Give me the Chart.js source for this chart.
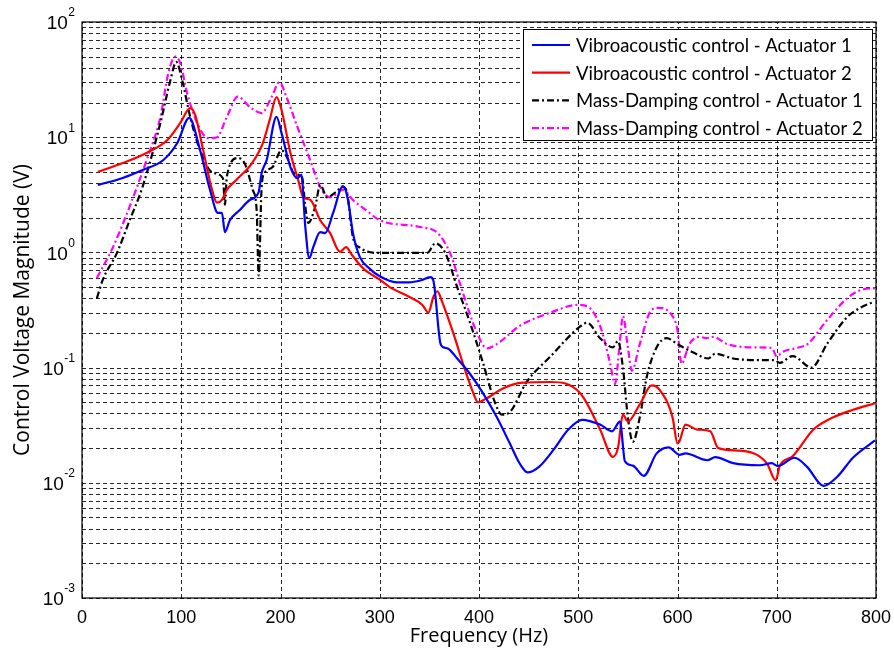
<!DOCTYPE html>
<html>
<head>
<meta charset="utf-8">
<script src="https://cdn.jsdelivr.net/npm/chart.js@4.4.1/dist/chart.umd.min.js"></script>
<style>
  html, body { margin: 0; padding: 0; background: #fff; }
  #wrap { width: 894px; height: 655px; }
</style>
</head>
<body>
<div id="wrap"><canvas id="chart" width="894" height="655"></canvas></div>
<script>
// values (frequency in Hz, voltage in V)
const seriesLabels = [
    'Vibroacoustic control - Actuator 1',
    'Vibroacoustic control - Actuator 2',
    'Mass-Damping control - Actuator 1',
    'Mass-Damping control - Actuator 2'
];

const freqVA1 = [16, 41, 61, 82, 96, 108, 119, 129, 137, 141, 144, 149, 159, 169, 178, 181, 186, 196, 201, 210, 217, 221, 225, 229, 233, 240, 245, 253, 263, 268, 273, 280, 290, 300, 317, 330, 341, 351, 354, 361, 364, 369, 378, 391, 404, 418, 431, 441, 449, 461, 475, 490, 504, 522, 534, 542, 547, 555, 566, 579, 591, 602, 608, 630, 638, 656, 683, 695, 701, 718, 731, 747, 761, 777, 799];
const voltVA1 = [3.85, 4.43, 5.19, 6.34, 8.9, 14.7, 7.7, 3.48, 2.2, 2.2, 1.5, 1.9, 2.33, 2.85, 3.34, 4.9, 6.3, 15, 10.9, 5.5, 4.4, 4.7, 1.66, 0.89, 1.11, 1.5, 1.47, 2.2, 3.77, 2.85, 1.47, 0.91, 0.72, 0.62, 0.55, 0.55, 0.57, 0.61, 0.57, 0.164, 0.15, 0.146, 0.12, 0.088, 0.06, 0.037, 0.022, 0.0147, 0.0123, 0.0139, 0.0193, 0.029, 0.0352, 0.032, 0.028, 0.034, 0.0154, 0.0141, 0.0115, 0.018, 0.0203, 0.0175, 0.018, 0.0157, 0.0167, 0.0148, 0.0142, 0.0148, 0.014, 0.0165, 0.0136, 0.0094, 0.0113, 0.0166, 0.0233];

const freqVA2 = [16, 41, 65, 86, 99, 109, 114, 122, 131, 136, 141, 146, 156, 171, 182, 189, 196, 201, 210, 218, 223, 230, 240, 250, 260, 266, 272, 283, 300, 310, 330, 343, 349, 354, 358, 363, 374, 386, 394, 399, 406, 424, 444, 472, 502, 522, 535, 540, 545, 550, 562, 574, 582, 595, 600, 602, 608, 620, 633, 641, 663, 690, 699, 703, 716, 737, 757, 777, 799];
const voltVA2 = [5.0, 5.97, 7.3, 9.46, 13.3, 17.9, 15.6, 7.8, 3.5, 2.7, 2.86, 3.5, 4.3, 5.9, 8.8, 14, 22.3, 17.3, 7.3, 4.2, 3.0, 2.86, 1.9, 1.47, 1.01, 1.11, 0.95, 0.73, 0.58, 0.5, 0.41, 0.35, 0.30, 0.41, 0.46, 0.37, 0.2, 0.095, 0.061, 0.05, 0.053, 0.066, 0.074, 0.075, 0.06, 0.029, 0.0168, 0.02, 0.039, 0.034, 0.048, 0.07, 0.064, 0.037, 0.022, 0.023, 0.032, 0.029, 0.028, 0.02, 0.019, 0.0148, 0.0105, 0.014, 0.017, 0.029, 0.037, 0.043, 0.049];

const freqMD1 = [15, 21, 35, 48, 61, 79, 89, 95, 101, 109, 119, 132, 142, 144, 146, 157, 164, 172, 176, 178, 181, 184, 192, 201, 208, 213, 219, 222, 225, 228, 235, 240, 247, 255, 263, 267, 273, 280, 300, 330, 348, 356, 366, 378, 391, 404, 416, 423, 431, 448, 472, 502, 509, 522, 535, 540, 545, 550, 555, 562, 569, 579, 589, 601, 616, 631, 638, 656, 683, 698, 703, 716, 735, 751, 771, 784, 797];
const voltMD1 = [0.40, 0.58, 0.98, 1.9, 3.7, 13.3, 31, 45, 31, 15, 7.7, 4.9, 4.4, 2.6, 4.6, 6.6, 5.9, 3.5, 2.3, 0.63, 3.7, 4.9, 5.5, 7.7, 6.3, 4.9, 4.7, 4.4, 2.5, 1.8, 2.5, 3.85, 3.0, 3.3, 3.7, 3.3, 1.35, 1.1, 0.99, 0.99, 0.99, 1.2, 0.99, 0.5, 0.245, 0.11, 0.05, 0.039, 0.041, 0.075, 0.125, 0.228, 0.245, 0.18, 0.15, 0.17, 0.1, 0.037, 0.0227, 0.037, 0.083, 0.15, 0.18, 0.158, 0.135, 0.12, 0.132, 0.12, 0.116, 0.116, 0.11, 0.126, 0.1, 0.162, 0.275, 0.33, 0.37];

const freqMD2 = [15, 31, 48, 65, 79, 87, 94, 99, 106, 116, 127, 136, 146, 157, 169, 181, 191, 199, 206, 217, 230, 240, 250, 263, 273, 287, 300, 341, 358, 371, 384, 398, 408, 418, 441, 472, 499, 509, 522, 532, 537, 542, 545, 550, 554, 562, 572, 580, 595, 600, 604, 612, 622, 629, 636, 650, 676, 695, 700, 706, 723, 731, 751, 771, 784, 799];
const voltMD2 = [0.6, 1.1, 2.5, 6.3, 15, 36, 50, 44, 24, 13.3, 9.8, 10, 15, 22.5, 18.3, 16.2, 22.3, 30, 22.3, 12.3, 6.3, 3.7, 3.0, 3.5, 2.85, 2.3, 1.9, 1.66, 1.48, 0.98, 0.44, 0.2, 0.147, 0.16, 0.23, 0.3, 0.35, 0.34, 0.23, 0.11, 0.072, 0.17, 0.28, 0.15, 0.094, 0.16, 0.3, 0.33, 0.28, 0.21, 0.108, 0.16, 0.185, 0.18, 0.185, 0.16, 0.15, 0.148, 0.125, 0.137, 0.15, 0.16, 0.26, 0.4, 0.47, 0.49];

const xTicks = [0, 100, 200, 300, 400, 500, 600, 700, 800];
const yExponents = [-3, -2, -1, 0, 1, 2];

const DASHDOT = [7, 3, 2, 3];

function pts(fs, vs) {
    return fs.map((f, i) => ({x: f, y: vs[i]}));
}

function line(label, fs, vs, color, dash) {
    return {
        label: label,
        data: pts(fs, vs),
        borderColor: color,
        backgroundColor: color,
        borderWidth: 2.2,
        borderDash: dash,
        pointRadius: 0,
        fill: false,
        cubicInterpolationMode: 'monotone'
    };
}

// dashed matlab-style grid, drawn under the lines
const dashedGrid = {
    id: 'dashedGrid',
    beforeDatasetsDraw(chart) {
        const ctx = chart.ctx;
        const a = chart.chartArea;
        ctx.save();
        ctx.strokeStyle = 'rgba(0,0,0,0.85)';
        ctx.lineWidth = 1;
        ctx.setLineDash([4, 3]);
        chart.scales.y.ticks.forEach(t => {
            const y = Math.round(chart.scales.y.getPixelForValue(t.value)) + 0.5;
            ctx.beginPath();
            ctx.moveTo(a.left, y);
            ctx.lineTo(a.right, y);
            ctx.stroke();
        });
        chart.scales.x.ticks.forEach(t => {
            const x = Math.round(chart.scales.x.getPixelForValue(t.value)) + 0.5;
            ctx.beginPath();
            ctx.moveTo(x, a.bottom);
            ctx.lineTo(x, a.top);
            ctx.stroke();
        });
        ctx.restore();
    }
};

// box round the plot, y tick labels with superscripts, legend box
const matlabLook = {
    id: 'matlabLook',
    afterDraw(chart) {
        const ctx = chart.ctx;
        const a = chart.chartArea;
        const ys = chart.scales.y;
        ctx.save();
        ctx.setLineDash([]);
        ctx.strokeStyle = '#000';
        ctx.lineWidth = 1.2;
        ctx.strokeRect(a.left, a.top, a.right - a.left, a.bottom - a.top);

        // y tick labels 10^n
        ctx.fillStyle = '#000';
        ctx.textBaseline = 'middle';
        ctx.textAlign = 'right';
        yExponents.forEach(e => {
            const y = ys.getPixelForValue(Math.pow(10, e));
            const exp = e < 0 ? '-' + (-e) : String(e);
            ctx.font = '12px "Liberation Sans"';
            const w = ctx.measureText(exp).width;
            ctx.fillText(exp, 75, y - 9);
            ctx.font = '19px "Liberation Sans"';
            ctx.fillText('10', 75 - w - 0.5, y + 2);
        });

        // legend
        const lx = 523, ly = 29, lw = 349, lh = 111;
        ctx.fillStyle = '#fff';
        ctx.fillRect(lx, ly, lw, lh);
        ctx.strokeStyle = '#000';
        ctx.lineWidth = 1;
        ctx.strokeRect(lx + 0.5, ly + 0.5, lw, lh);
        ctx.font = '18.5px Lato';
        ctx.textAlign = 'left';
        chart.data.datasets.forEach((ds, i) => {
            const y = 45 + i * 27.7;
            ctx.strokeStyle = ds.borderColor;
            ctx.lineWidth = 2.2;
            ctx.setLineDash(ds.borderDash || []);
            ctx.beginPath();
            ctx.moveTo(532, y);
            ctx.lineTo(570, y);
            ctx.stroke();
            ctx.setLineDash([]);
            ctx.fillStyle = '#000';
            ctx.fillText(ds.label, 576, y + 1);
        });
        ctx.restore();
    }
};

new Chart(document.getElementById('chart'), {
    type: 'line',
    data: {
        datasets: [
            line(seriesLabels[0], freqVA1, voltVA1, '#0000ff', []),
            line(seriesLabels[1], freqVA2, voltVA2, '#ff0000', []),
            line(seriesLabels[2], freqMD1, voltMD1, '#000000', DASHDOT),
            line(seriesLabels[3], freqMD2, voltMD2, '#ff00ff', DASHDOT)
        ]
    },
    options: {
        responsive: false,
        animation: false,
        layout: {padding: {left: 0, top: 22, right: 18, bottom: 0}},
        plugins: {
            legend: {display: false},
            tooltip: {enabled: false}
        },
        scales: {
            x: {
                type: 'linear',
                min: 0,
                max: 800,
                afterBuildTicks: s => { s.ticks = xTicks.map(v => ({value: v})); },
                afterFit: s => { s.height = 57; s.paddingLeft = 0; s.paddingRight = 0; },
                grid: {display: false, drawTicks: false},
                border: {display: false},
                ticks: {
                    color: '#000',
                    padding: 9,
                    maxRotation: 0,
                    font: {family: '"Liberation Sans"', size: 18}
                },
                title: {
                    display: true,
                    text: 'Frequency (Hz)',
                    color: '#000',
                    padding: {top: 0, bottom: 7},
                    font: {family: '"Open Sans"', size: 20}
                }
            },
            y: {
                type: 'logarithmic',
                min: 0.001,
                max: 100,
                afterBuildTicks: s => {
                    const t = [];
                    for (let e = -3; e <= 1; e++) {
                        for (let m = 1; m <= 9; m++) t.push({value: m * Math.pow(10, e)});
                    }
                    t.push({value: 100});
                    s.ticks = t;
                },
                afterFit: s => { s.width = 82; s.paddingTop = 0; s.paddingBottom = 0; },
                grid: {display: false, drawTicks: false},
                border: {display: false},
                ticks: {display: false, autoSkip: false},
                title: {
                    display: true,
                    text: 'Control Voltage Magnitude (V)',
                    color: '#000',
                    padding: {top: 10, bottom: 0},
                    font: {family: '"Open Sans"', size: 21}
                }
            }
        }
    },
    plugins: [dashedGrid, matlabLook]
});
</script>
</body>
</html>
